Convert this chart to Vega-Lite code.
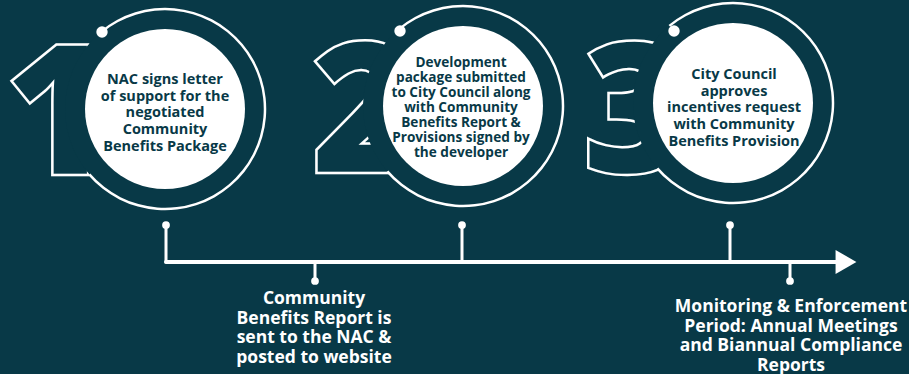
{
  "$schema": "https://vega.github.io/schema/vega-lite/v6.json",
  "width": 909,
  "height": 374,
  "autosize": {"type": "none"},
  "padding": 0,
  "background": "#083947",
  "config": {"view": {"stroke": null}},
  "datasets": {
    "numerals": [
      {"n": "1", "x": 4, "y": 175},
      {"n": "2", "x": 311, "y": 173},
      {"n": "3", "x": 582, "y": 173}
    ],
    "rings": [
      {"step": 1, "x": 165, "y": 109, "dx": 102, "dy": 32},
      {"step": 2, "x": 463, "y": 106, "dx": 400, "dy": 31},
      {"step": 3, "x": 733, "y": 103, "dx": 674, "dy": 31}
    ],
    "steps": [
      {"step": 1, "x": 165, "y": 80, "label": "NAC signs letter\nof support for the\nnegotiated\nCommunity\nBenefits Package"},
      {"step": 2, "x": 461, "y": 63, "label": "Development\npackage submitted\nto City Council along\nwith Community\nBenefits Report &\nProvisions signed by\nthe developer"},
      {"step": 3, "x": 734, "y": 75, "label": "City Council\napproves\nincentives request\nwith Community\nBenefits Provision"}
    ],
    "timeline": [
      {"x": 166, "x2": 840, "y": 262}
    ],
    "stems": [
      {"x": 166, "y": 225, "y2": 262},
      {"x": 462, "y": 225, "y2": 262},
      {"x": 730, "y": 225, "y2": 262},
      {"x": 315, "y": 281, "y2": 262},
      {"x": 790, "y": 281, "y2": 262}
    ],
    "arrow": [{"x": 846, "y": 262}],
    "below": [
      {"x": 314, "y": 299, "label": "Community\nBenefits Report is\nsent to the NAC &\nposted to website"},
      {"x": 791, "y": 307, "label": "Monitoring & Enforcement\nPeriod: Annual Meetings\nand Biannual Compliance\nReports"}
    ]
  },
  "layer": [
    {
      "data": {"name": "numerals"},
      "mark": {"type": "text", "font": "Open Sans", "fontWeight": 800, "fontSize": 183, "align": "left", "baseline": "alphabetic", "fill": "transparent", "stroke": "white", "strokeWidth": 2.5, "strokeJoin": "miter"},
      "encoding": {
        "x": {"field": "x", "type": "quantitative", "scale": {"domain": [0, 909], "nice": false, "zero": false}, "axis": null},
        "y": {"field": "y", "type": "quantitative", "scale": {"domain": [0, 374], "nice": false, "zero": false, "reverse": true}, "axis": null},
        "text": {"field": "n"}
      }
    },
    {
      "data": {"name": "rings"},
      "mark": {"type": "point", "shape": "circle", "filled": true, "fill": "#083947", "opacity": 1, "size": 40000, "strokeWidth": 0},
      "encoding": {
        "x": {"field": "x", "type": "quantitative", "scale": {"domain": [0, 909], "nice": false, "zero": false}, "axis": null},
        "y": {"field": "y", "type": "quantitative", "scale": {"domain": [0, 374], "nice": false, "zero": false, "reverse": true}, "axis": null}
      }
    },
    {
      "data": {"name": "rings"},
      "mark": {"type": "arc", "radius": 101.25, "radius2": 98.75, "theta": -0.69, "theta2": 4.0, "fill": "white", "strokeWidth": 0},
      "encoding": {
        "x": {"field": "x", "type": "quantitative", "scale": {"domain": [0, 909], "nice": false, "zero": false}, "axis": null},
        "y": {"field": "y", "type": "quantitative", "scale": {"domain": [0, 374], "nice": false, "zero": false, "reverse": true}, "axis": null}
      }
    },
    {
      "data": {"name": "rings"},
      "mark": {"type": "point", "shape": "circle", "filled": true, "fill": "white", "opacity": 1, "size": 130, "strokeWidth": 0},
      "encoding": {
        "x": {"field": "dx", "type": "quantitative", "scale": {"domain": [0, 909], "nice": false, "zero": false}, "axis": null},
        "y": {"field": "dy", "type": "quantitative", "scale": {"domain": [0, 374], "nice": false, "zero": false, "reverse": true}, "axis": null}
      }
    },
    {
      "data": {"name": "rings"},
      "mark": {"type": "point", "shape": "circle", "filled": true, "fill": "white", "opacity": 1, "size": 25600, "strokeWidth": 0},
      "encoding": {
        "x": {"field": "x", "type": "quantitative", "scale": {"domain": [0, 909], "nice": false, "zero": false}, "axis": null},
        "y": {"field": "y", "type": "quantitative", "scale": {"domain": [0, 374], "nice": false, "zero": false, "reverse": true}, "axis": null}
      }
    },
    {
      "data": {"name": "steps"},
      "transform": [{"filter": "datum.step != 2"}],
      "mark": {"type": "text", "font": "Open Sans", "fontWeight": 700, "fontSize": 14.5, "lineHeight": 16.7, "lineBreak": "\n", "align": "center", "baseline": "middle", "fill": "#083947"},
      "encoding": {
        "x": {"field": "x", "type": "quantitative", "scale": {"domain": [0, 909], "nice": false, "zero": false}, "axis": null},
        "y": {"field": "y", "type": "quantitative", "scale": {"domain": [0, 374], "nice": false, "zero": false, "reverse": true}, "axis": null},
        "text": {"field": "label"}
      }
    },
    {
      "data": {"name": "steps"},
      "transform": [{"filter": "datum.step == 2"}],
      "mark": {"type": "text", "font": "Open Sans", "fontWeight": 700, "fontSize": 13.6, "lineHeight": 15, "lineBreak": "\n", "align": "center", "baseline": "middle", "fill": "#083947"},
      "encoding": {
        "x": {"field": "x", "type": "quantitative", "scale": {"domain": [0, 909], "nice": false, "zero": false}, "axis": null},
        "y": {"field": "y", "type": "quantitative", "scale": {"domain": [0, 374], "nice": false, "zero": false, "reverse": true}, "axis": null},
        "text": {"field": "label"}
      }
    },
    {
      "data": {"name": "timeline"},
      "mark": {"type": "rule", "color": "white", "strokeWidth": 4, "strokeCap": "round"},
      "encoding": {
        "x": {"field": "x", "type": "quantitative", "scale": {"domain": [0, 909], "nice": false, "zero": false}, "axis": null},
        "x2": {"field": "x2"},
        "y": {"field": "y", "type": "quantitative", "scale": {"domain": [0, 374], "nice": false, "zero": false, "reverse": true}, "axis": null}
      }
    },
    {
      "data": {"name": "stems"},
      "mark": {"type": "rule", "color": "white", "strokeWidth": 3, "strokeCap": "round"},
      "encoding": {
        "x": {"field": "x", "type": "quantitative", "scale": {"domain": [0, 909], "nice": false, "zero": false}, "axis": null},
        "y": {"field": "y", "type": "quantitative", "scale": {"domain": [0, 374], "nice": false, "zero": false, "reverse": true}, "axis": null},
        "y2": {"field": "y2"}
      }
    },
    {
      "data": {"name": "stems"},
      "mark": {"type": "point", "shape": "circle", "filled": true, "fill": "white", "opacity": 1, "size": 60, "strokeWidth": 0},
      "encoding": {
        "x": {"field": "x", "type": "quantitative", "scale": {"domain": [0, 909], "nice": false, "zero": false}, "axis": null},
        "y": {"field": "y", "type": "quantitative", "scale": {"domain": [0, 374], "nice": false, "zero": false, "reverse": true}, "axis": null}
      }
    },
    {
      "data": {"name": "arrow"},
      "mark": {"type": "point", "shape": "triangle-right", "filled": true, "fill": "white", "opacity": 1, "size": 580, "strokeWidth": 0},
      "encoding": {
        "x": {"field": "x", "type": "quantitative", "scale": {"domain": [0, 909], "nice": false, "zero": false}, "axis": null},
        "y": {"field": "y", "type": "quantitative", "scale": {"domain": [0, 374], "nice": false, "zero": false, "reverse": true}, "axis": null}
      }
    },
    {
      "data": {"name": "below"},
      "mark": {"type": "text", "font": "Open Sans", "fontWeight": 700, "fontSize": 17.5, "lineHeight": 19.6, "lineBreak": "\n", "align": "center", "baseline": "middle", "fill": "white"},
      "encoding": {
        "x": {"field": "x", "type": "quantitative", "scale": {"domain": [0, 909], "nice": false, "zero": false}, "axis": null},
        "y": {"field": "y", "type": "quantitative", "scale": {"domain": [0, 374], "nice": false, "zero": false, "reverse": true}, "axis": null},
        "text": {"field": "label"}
      }
    }
  ]
}
